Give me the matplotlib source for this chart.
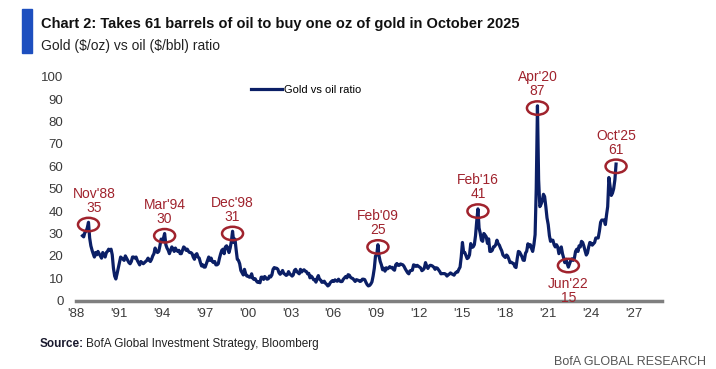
import numpy as np
import pandas as pd
import matplotlib
matplotlib.use("Agg")
import matplotlib.pyplot as plt
import matplotlib.dates as mdates
from matplotlib.patches import Ellipse, Rectangle

plt.rcParams['font.family'] = ['Liberation Sans', 'DejaVu Sans']

# monthly gold/oil ratio (mid-month values)
ratio_1988_1999 = [
    29.0, 28.5, 30.5, 31.0, 32.5, 35.0, 28.0,                                  # 1988 Jun-Dec
    24.5, 22.5, 21.0, 19.5, 21.5, 20.5, 22.0, 21.0, 20.0, 19.0, 21.5, 20.5,  # 1989
    19.5, 21.5, 22.0, 23.0, 22.5, 23.0, 20.5, 14.5, 11.0, 9.7, 12.0, 14.5,   # 1990
    17.0, 19.5, 19.0, 18.5, 18.0, 20.0, 19.0, 18.0, 17.0, 16.5, 17.5, 19.5,  # 1991
    19.5, 19.0, 19.5, 18.0, 17.0, 16.0, 17.5, 17.0, 16.5, 17.0, 17.5, 18.0,  # 1992
    19.0, 18.0, 17.5, 18.5, 20.0, 21.0, 23.5, 22.0, 21.5, 22.0, 24.5, 27.5,  # 1993
    26.5, 28.0, 30.0, 25.0, 23.5, 22.5, 21.0, 22.5, 24.0, 23.0, 22.0, 23.5,  # 1994
    22.5, 22.0, 22.5, 21.0, 21.0, 22.5, 24.0, 23.5, 22.5, 23.0, 22.0, 21.5,  # 1995
    21.5, 21.0, 19.5, 18.5, 20.5, 21.0, 19.5, 19.0, 17.0, 15.5, 16.0, 15.0,  # 1996
    15.0, 16.5, 18.0, 19.5, 18.0, 19.0, 17.5, 17.0, 17.5, 16.0, 16.0, 16.5,  # 1997
    19.0, 21.0, 22.5, 23.0, 21.0, 24.0, 24.5, 23.5, 21.5, 23.5, 26.5, 31.0,  # 1998
    26.0, 27.5, 23.0, 18.5, 18.0, 16.5, 13.5, 12.5, 11.5, 14.0, 12.0, 11.0,  # 1999
]
ratio_2000_2009 = [
    11.0, 10.5, 10.5, 12.0, 10.0, 9.5, 9.8, 8.8, 8.2, 8.5, 8.0, 10.5,        # 2000
    10.5, 9.5, 10.8, 10.2, 9.6, 9.8, 11.0, 10.6, 11.5, 14.0, 14.8, 14.5,     # 2001
    14.5, 14.0, 12.5, 11.8, 12.5, 13.5, 12.2, 11.8, 11.3, 11.6, 13.0, 12.0,  # 2002
    11.5, 11.0, 11.5, 13.5, 14.0, 13.0, 12.5, 12.0, 14.0, 12.8, 13.5, 13.8,  # 2003
    13.2, 13.0, 12.0, 12.2, 10.2, 11.0, 10.4, 9.4, 9.3, 8.3, 10.0, 11.2,     # 2004
    9.5, 9.2, 8.2, 8.3, 8.7, 7.8, 7.3, 6.6, 7.0, 8.0, 8.6, 9.0,              # 2005
    8.6, 9.3, 8.9, 8.7, 9.6, 8.8, 8.5, 8.6, 9.6, 10.2, 10.8, 10.2,           # 2006
    11.6, 11.4, 10.5, 10.1, 9.9, 9.2, 8.6, 9.4, 9.2, 9.0, 8.6, 8.8,          # 2007
    9.6, 9.6, 9.4, 8.2, 7.2, 6.6, 6.8, 7.4, 8.4, 11.0, 14.5, 20.0,           # 2008
    20.5, 25.0, 20.0, 17.5, 16.0, 13.8, 14.5, 13.2, 14.7, 14.2, 14.6, 15.2,  # 2009
]
ratio_2010_2019 = [
    14.7, 14.9, 14.0, 13.6, 16.0, 16.6, 15.8, 15.8, 16.4, 16.2, 16.0, 15.3,  # 2010
    14.2, 13.3, 12.5, 12.0, 13.3, 13.5, 13.6, 16.0, 15.8, 15.3, 15.8, 15.4,  # 2011
    15.0, 14.6, 13.4, 13.8, 14.5, 17.0, 15.5, 14.4, 15.4, 15.8, 15.7, 15.4,  # 2012
    14.9, 14.0, 14.7, 14.5, 13.8, 13.0, 12.0, 12.1, 12.1, 12.1, 11.8, 11.0,  # 2013
    11.5, 11.9, 12.4, 12.0, 11.7, 11.4, 12.3, 12.8, 12.8, 14.0, 15.0, 19.5,  # 2014
    26.0, 21.5, 21.5, 20.2, 18.8, 19.2, 20.5, 25.5, 23.8, 24.0, 25.0, 29.0,  # 2015
    35.5, 41.0, 32.5, 30.0, 27.0, 26.5, 30.0, 29.3, 28.5, 25.6, 27.6, 22.0,  # 2016
    22.0, 22.5, 24.0, 24.2, 25.0, 27.0, 25.5, 24.8, 23.4, 22.3, 20.4, 19.8,  # 2017
    19.3, 20.4, 19.9, 18.6, 17.0, 17.2, 16.8, 16.6, 15.2, 14.8, 18.8, 22.0,  # 2018
    21.7, 20.6, 19.7, 18.1, 18.0, 21.2, 22.1, 25.4, 24.1, 25.0, 23.3, 22.0,  # 2019
]
ratio_2020_2025 = [
    25.0, 29.5, 50.0, 87.0, 54.0, 42.0, 43.0, 44.5, 47.5, 46.5, 42.0, 37.0,  # 2020
    34.0, 29.0, 26.5, 27.0, 27.0, 25.0, 24.0, 25.0, 24.0, 21.0, 22.5, 24.0,  # 2021
    21.0, 19.0, 17.0, 18.5, 16.5, 15.0, 16.5, 18.0, 18.7, 18.0, 19.0, 22.0,  # 2022
    23.0, 22.0, 24.5, 24.0, 26.5, 26.0, 24.4, 22.3, 20.4, 21.3, 24.0, 26.0,  # 2023
    25.7, 24.8, 25.4, 26.0, 28.0, 28.0, 28.0, 31.0, 35.0, 36.0, 36.0, 36.0,  # 2024
    34.0, 38.5, 42.0, 55.0, 51.0, 47.0, 48.0, 50.0, 54.0, 61.0,              # 2025 Jan-Oct
]
block_starts = ['1988-06-01', '2000-01-01', '2010-01-01', '2020-01-01']

peak_dates = ['1988-11-15', '1994-03-15', '1998-12-15', '2009-02-15',
              '2016-02-15', '2020-04-15', '2022-06-15', '2025-10-15']
peak_names = ["Nov'88", "Mar'94", "Dec'98", "Feb'09", "Feb'16", "Apr'20", "Jun'22", "Oct'25"]
peak_values = [35, 30, 31, 25, 41, 87, 15, 61]
peak_side = ['above'] * 6 + ['below', 'above']

x_ticks = list(range(1988, 2028, 3))

# --- build the series
parts = []
for start, vals in zip(block_starts, [ratio_1988_1999, ratio_2000_2009, ratio_2010_2019, ratio_2020_2025]):
    idx = pd.date_range(start, periods=len(vals), freq='MS') + pd.Timedelta(days=14)
    parts.append(pd.Series(vals, index=idx))
ratio = pd.concat(parts)

navy = '#0B1F66'
red = '#A0232D'

fig = plt.figure(figsize=(7.16, 3.69), dpi=100)
ax = fig.add_axes([76 / 716, 1 - 300.7 / 369, 586 / 716, 224 / 369])

ax.plot(ratio.index, ratio.values, color=navy, lw=2.3, label='Gold vs oil ratio', solid_joinstyle='round')

ax.set_xlim(pd.Timestamp('1988-01-01'), pd.Timestamp('2029-01-01'))
ax.set_ylim(0, 100)
ax.set_yticks(np.arange(0, 101, 10))
ax.set_xticks([pd.Timestamp(f'{y}-01-01') for y in x_ticks])
ax.xaxis.set_major_formatter(mdates.DateFormatter("'%y"))
ax.tick_params(axis='both', length=0, labelsize=9.5, labelcolor='#3A3A3A')
ax.tick_params(axis='x', pad=5)
ax.tick_params(axis='y', pad=9)

for s in ['top', 'right', 'left']:
    ax.spines[s].set_visible(False)
ax.spines['bottom'].set_color('#7F7F7F')
ax.spines['bottom'].set_linewidth(2.5)

# circled highlights
ell_w = 1.47 * 365.25
ell_h = 6.0
for d, name, v, side in zip(peak_dates, peak_names, peak_values, peak_side):
    xd = mdates.date2num(pd.Timestamp(d))
    cy = v - 1.0 if side == 'above' else v + 0.7
    ax.add_patch(Ellipse((xd, cy), ell_w, ell_h, fill=False, ec=red, lw=1.8, zorder=3))
    dx = 4 if name == "Nov'88" else 0
    if side == 'above':
        ax.annotate(f'{name}\n{v}', (xd, cy), xytext=(dx, 7), textcoords='offset points',
                    ha='center', va='bottom', color=red, fontsize=10, linespacing=1.0)
    else:
        ax.annotate(f'{name}\n{v}', (xd, cy), xytext=(dx, -8), textcoords='offset points',
                    ha='center', va='top', color=red, fontsize=10, linespacing=1.0)

ax.legend(loc='center left', bbox_to_anchor=((251 - 76) / 586, (300.7 - 90) / 224),
          frameon=False, fontsize=8, handlelength=2.8, handletextpad=0.15,
          borderpad=0, borderaxespad=0)

# header
fig.patches.append(Rectangle((22 / 716, 1 - 53 / 369), 10 / 716, 44 / 369,
                             transform=fig.transFigure, color='#1D4FBF', zorder=5))
fig.text(41 / 716, 1 - 28 / 369, 'Chart 2: Takes 61 barrels of oil to buy one oz of gold in October 2025',
         fontsize=10.5, fontweight='bold', color='#111111', va='baseline')
fig.text(41 / 716, 1 - 50 / 369, r'Gold (\$/oz) vs oil (\$/bbl) ratio',
         fontsize=10, color='#222222', va='baseline')

# footer
src = fig.text(40 / 716, 1 - 347 / 369, 'Source:', fontsize=8.5, fontweight='bold',
               color='#1A1A2E', va='baseline')
fig.canvas.draw()
bb = src.get_window_extent(renderer=fig.canvas.get_renderer())
fig.text(bb.x1 / 716 + 2 / 716, 1 - 347 / 369, 'BofA Global Investment Strategy, Bloomberg',
         fontsize=8.5, color='#222222', va='baseline')
fig.text(706 / 716, 1 - 365 / 369, 'BofA GLOBAL RESEARCH', fontsize=9, color='#555555',
         ha='right', va='baseline')

fig.savefig('out.png', dpi=100)
